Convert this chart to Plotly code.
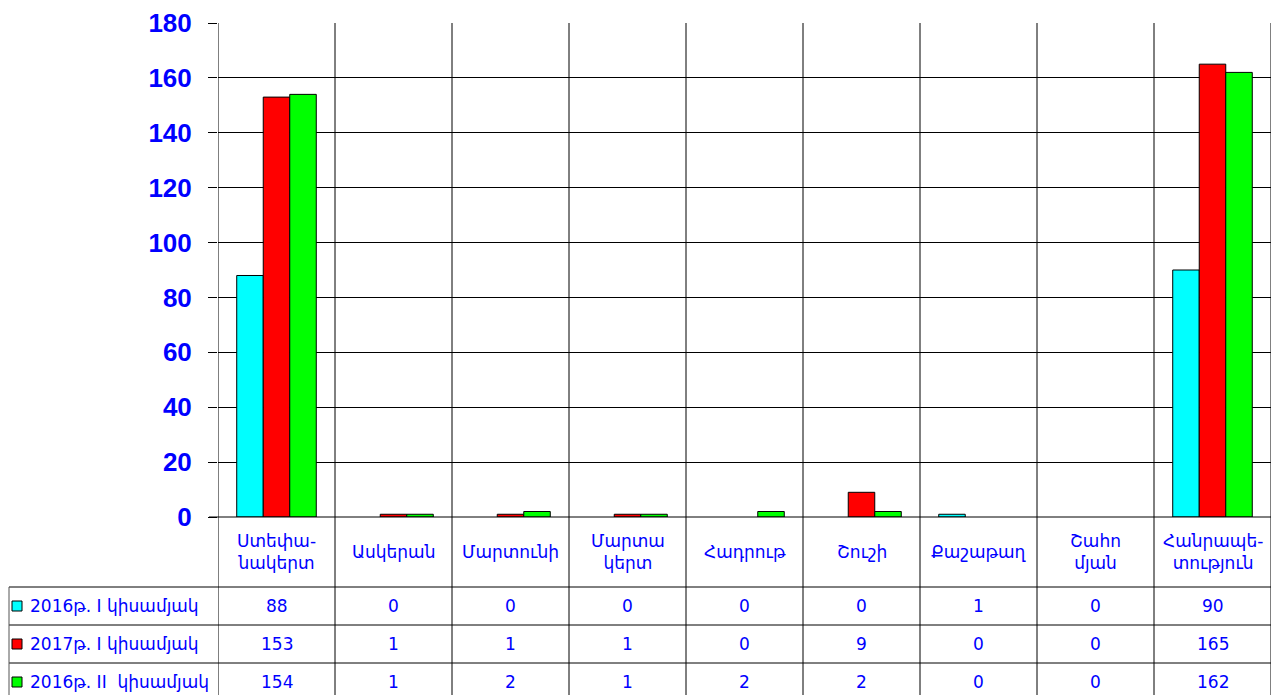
import plotly.graph_objects as go

categories = ["Ստեփա-<br>նակերտ", "Ասկերան", "Մարտունի", "Մարտա<br>կերտ", "Հադրութ",
              "Շուշի", "Քաշաթաղ", "Շահո<br>մյան", "Հանրապե-<br>տություն"]
series_names = ["2016թ. I կիսամյակ", "2017թ. I կիսամյակ", "2016թ. II  կիսամյակ"]
s2016_1 = [88, 0, 0, 0, 0, 0, 1, 0, 90]
s2017_1 = [153, 1, 1, 1, 0, 9, 0, 0, 165]
s2016_2 = [154, 1, 2, 1, 2, 2, 0, 0, 162]
series_values = [s2016_1, s2017_1, s2016_2]
colors = ["#00FFFF", "#FF0000", "#00FF00"]
y_ticks = [0, 20, 40, 60, 80, 100, 120, 140, 160, 180]

# page body has an 8px margin; figure is sized to fill the rest of the window
OFF = 8
W, H = 1279 - OFF, 695 - OFF
def px(x): return (x - OFF) / W
def py(y): return (695 - y) / H

x_idx = list(range(len(categories)))
fig = go.Figure()
for name, vals, col in zip(series_names, series_values, colors):
    fig.add_trace(go.Bar(x=x_idx, y=[v if v else None for v in vals], name=name,
                         marker=dict(color=col, line=dict(color="black", width=1))))

txt_font = dict(family="DejaVu Sans", size=17, color="#0000FF")
shapes = []
ann = []
plot_left, plot_right, plot_top, plot_bottom = 218, 1271, 23, 517
# vertical category boundaries (through chart and table)
for i in range(len(categories) + 1):
    shapes.append(dict(type="line", xref="x", yref="paper", x0=i - 0.5, x1=i - 0.5,
                       y0=0, y1=py(plot_top), line=dict(color="black", width=1)))
# table horizontal lines
for yy in [587, 625, 663]:
    shapes.append(dict(type="line", xref="paper", yref="paper", x0=px(9), x1=px(plot_right),
                       y0=py(yy), y1=py(yy), line=dict(color="black", width=1)))
shapes.append(dict(type="line", xref="paper", yref="paper", x0=px(plot_left - 9), x1=px(plot_right),
                   y0=py(plot_bottom), y1=py(plot_bottom), line=dict(color="black", width=1)))
# frame lines
shapes.append(dict(type="line", xref="paper", yref="paper", x0=px(9), x1=px(9), y0=0, y1=py(587),
                   line=dict(color="#555555", width=1)))
shapes.append(dict(type="line", xref="paper", yref="paper", x0=px(1274), x1=px(1274), y0=0, y1=1,
                   line=dict(color="black", width=2)))

# category header labels
for i, c in enumerate(categories):
    ann.append(dict(x=i, y=py(552), xref="x", yref="paper", text=c, showarrow=False,
                    font=txt_font, xanchor="center", yanchor="middle"))
row_centers = [606, 644, 682]
for r, (name, vals, col) in enumerate(zip(series_names, series_values, colors)):
    yc = row_centers[r]
    shapes.append(dict(type="rect", xref="paper", yref="paper", x0=px(12), x1=px(22),
                       y0=py(yc + 5), y1=py(yc - 5), fillcolor=col, line=dict(color="black", width=1)))
    ann.append(dict(x=px(28), y=py(yc), xref="paper", yref="paper", text=name, showarrow=False,
                    font=txt_font, xanchor="left", yanchor="middle"))
    for i, v in enumerate(vals):
        ann.append(dict(x=i, y=py(yc), xref="x", yref="paper", text=str(v), showarrow=False,
                        font=txt_font, xanchor="center", yanchor="middle"))

fig.update_layout(
    width=W, height=H, margin=dict(l=0, r=0, t=0, b=0, autoexpand=False),
    paper_bgcolor="white", plot_bgcolor="white",
    barmode="group", bargap=0.32, bargroupgap=0,
    showlegend=False,
    xaxis=dict(domain=[px(plot_left), px(plot_right)], range=[-0.5, len(categories) - 0.5],
               showticklabels=False, showgrid=False, zeroline=False, showline=False, ticks="",
               automargin=False),
    yaxis=dict(domain=[py(plot_bottom), py(plot_top)], range=[0, 180], tickvals=y_ticks,
               showgrid=True, gridcolor="black", gridwidth=1, zeroline=False,
               ticks="outside", ticklen=9, tickcolor="black", ticklabelstandoff=11,
               tickfont=dict(family="Liberation Sans", size=26, color="#0000FF", weight="bold"),
               showline=False, automargin=False),
    shapes=shapes, annotations=ann,
)
fig.write_html("out.html")
